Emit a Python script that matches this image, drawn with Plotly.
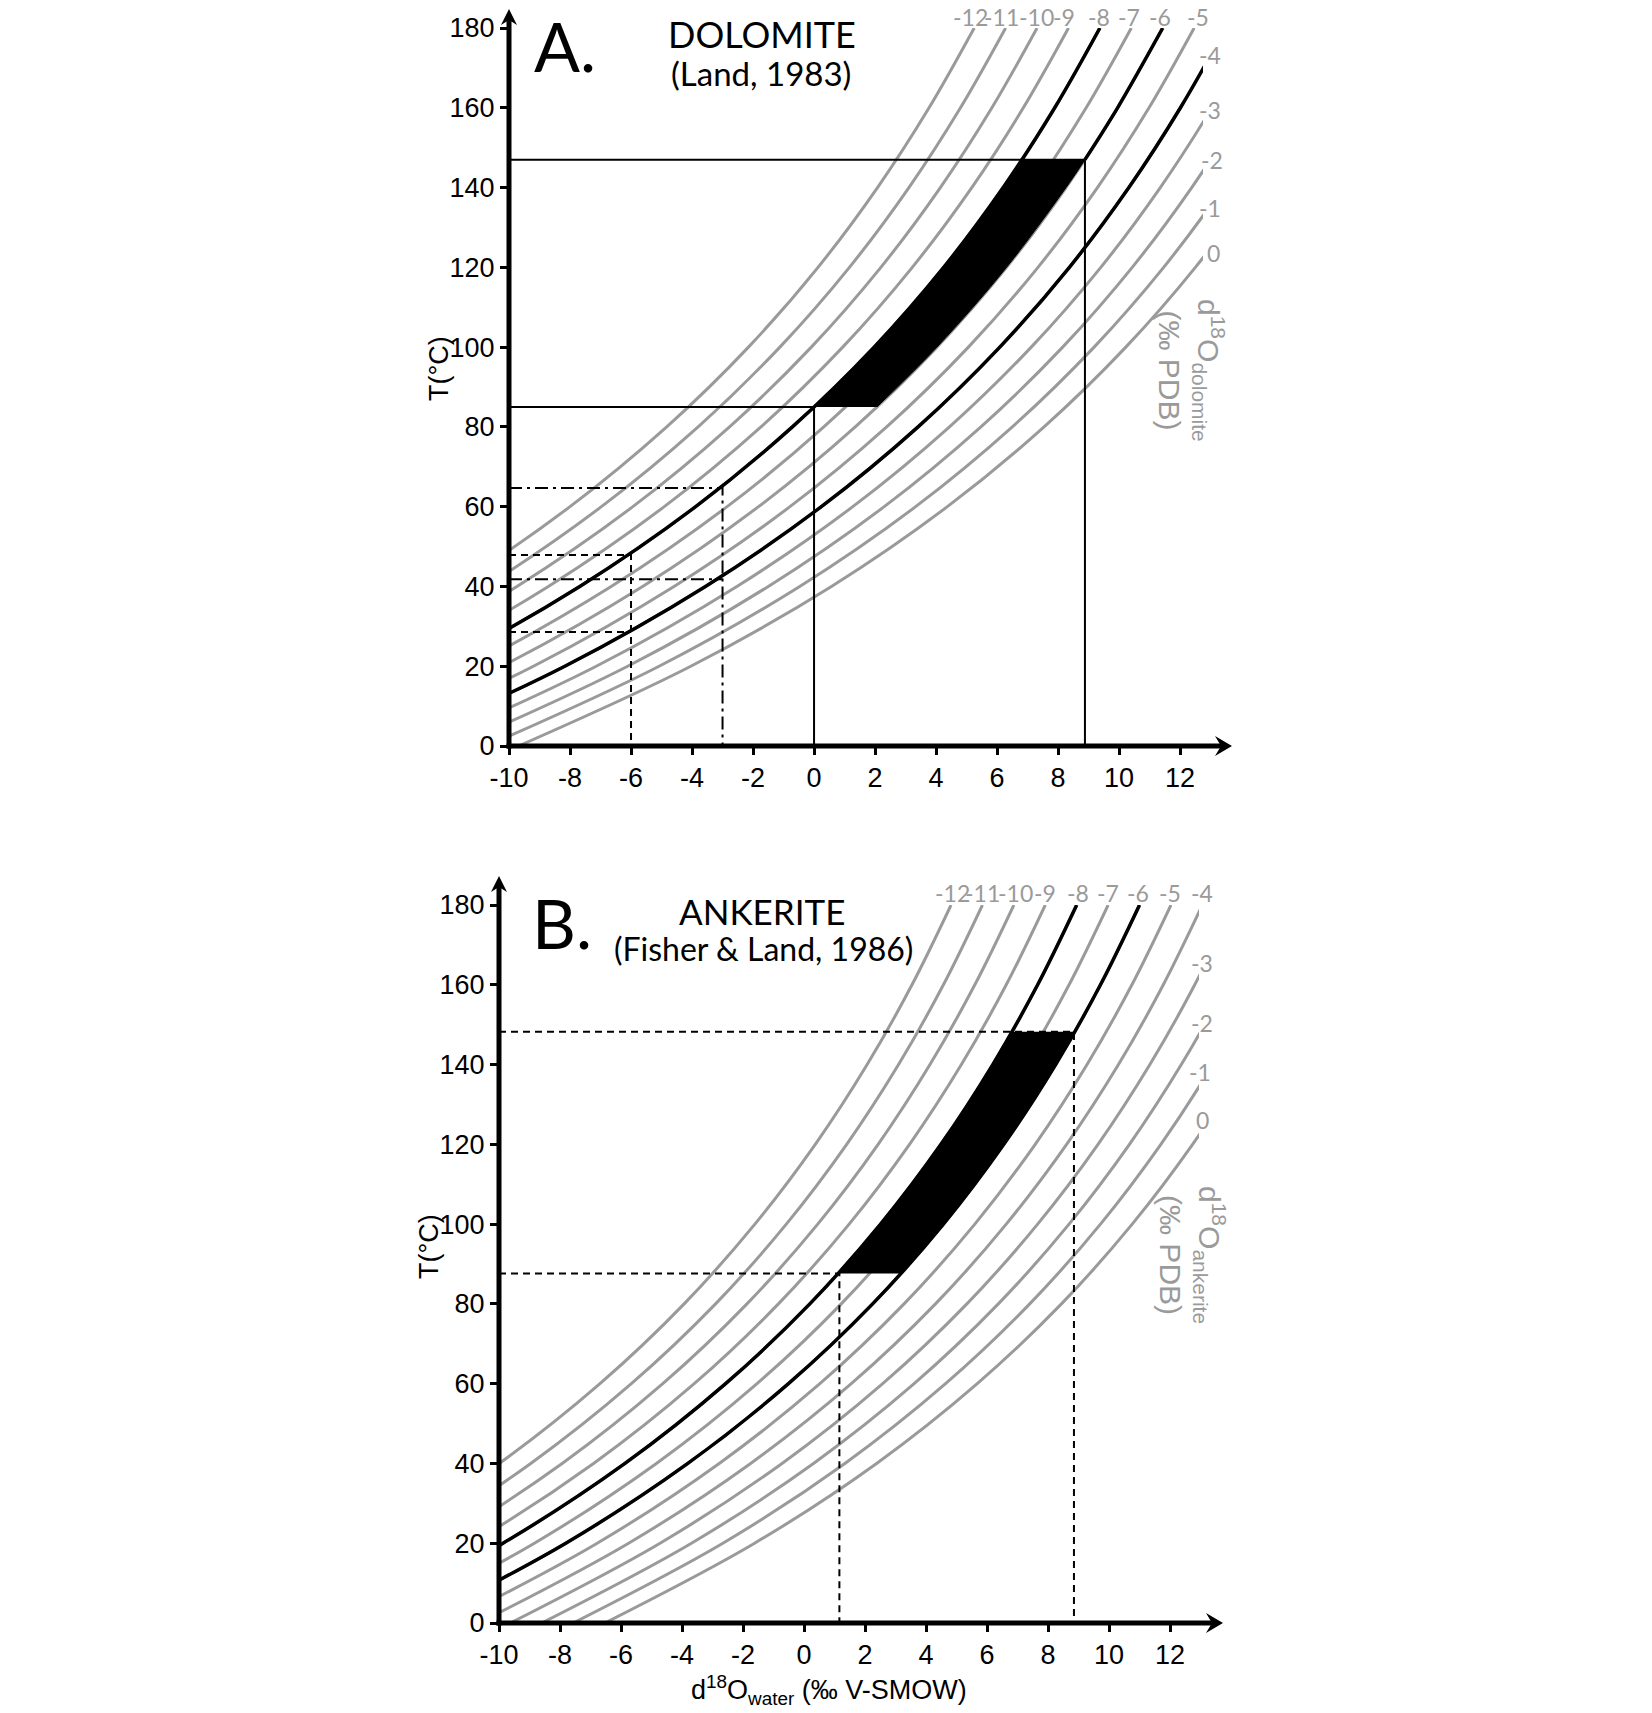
import plotly.graph_objects as go

W, H = 1652, 1713
PAGE_OFFSET = 8  # the browser body margin shifts the figure by this much

temp_grid = [0, 20, 40, 60, 80, 100, 120, 140, 160, 180]
iso_labels = [-12, -11, -10, -9, -8, -7, -6, -5, -4, -3, -2, -1, 0]

# A. dolomite (Land, 1983): d18O water (‰ V-SMOW) along each d18O dolomite isopleth
dol_water = {
    -12: [-22.06, -16.41, -11.80, -8.00, -4.83, -2.15, 0.13, 2.08, 3.77, 5.25],
    -11: [-21.03, -15.38, -10.77, -6.97, -3.80, -1.12, 1.16, 3.11, 4.80, 6.28],
    -10: [-20.00, -14.35, -9.74, -5.94, -2.77, -0.09, 2.19, 4.14, 5.83, 7.31],
    -9: [-18.97, -13.32, -8.71, -4.91, -1.74, 0.94, 3.22, 5.17, 6.86, 8.34],
    -8: [-17.94, -12.29, -7.68, -3.88, -0.71, 1.97, 4.25, 6.20, 7.89, 9.37],
    -7: [-16.91, -11.26, -6.65, -2.85, 0.32, 3.00, 5.28, 7.23, 8.92, 10.40],
    -6: [-15.88, -10.23, -5.62, -1.82, 1.35, 4.03, 6.31, 8.26, 9.95, 11.43],
    -5: [-14.85, -9.20, -4.59, -0.79, 2.38, 5.06, 7.34, 9.29, 10.98, 12.46],
    -4: [-13.82, -8.17, -3.56, 0.24, 3.41, 6.09, 8.37, 10.32, 12.01, 13.49],
    -3: [-12.79, -7.14, -2.53, 1.27, 4.44, 7.12, 9.40, 11.35, 13.04, 14.52],
    -2: [-11.76, -6.11, -1.50, 2.30, 5.47, 8.15, 10.43, 12.38, 14.07, 15.55],
    -1: [-10.73, -5.08, -0.47, 3.33, 6.50, 9.18, 11.46, 13.41, 15.10, 16.58],
    0: [-9.69, -4.04, 0.57, 4.37, 7.54, 10.22, 12.50, 14.45, 16.14, 17.62],
}
dol_black = [-8, -4]
# the -6 isopleth is black above the box
dol_top_T = [147, 160, 180]
dol_top_x = [8.88, 9.95, 11.43]
# black band between the -8 and -6 isopleths
dol_band_T = [85, 100, 120, 140, 147]
dol_band_left = [0.0, 1.97, 4.25, 6.20, 6.82]
dol_band_right = [2.06, 4.03, 6.31, 8.26, 8.88]
# reading lines (water value, temperature)
dol_solid = [(8.88, 147), (0.0, 85)]
dol_dash_x, dol_dash_T = -6.0, [47.9, 28.6]
dol_dashdot_x, dol_dashdot_T = -3.0, [64.7, 41.8]

# B. ankerite (Fisher & Land, 1986)
ank_water = {
    -12: [-18.90, -13.99, -9.99, -6.69, -3.93, -1.61, 0.37, 2.07, 3.54, 4.82],
    -11: [-17.87, -12.96, -8.96, -5.66, -2.90, -0.58, 1.40, 3.10, 4.57, 5.85],
    -10: [-16.84, -11.93, -7.93, -4.63, -1.87, 0.45, 2.43, 4.13, 5.60, 6.88],
    -9: [-15.81, -10.90, -6.90, -3.60, -0.84, 1.48, 3.46, 5.16, 6.63, 7.91],
    -8: [-14.78, -9.87, -5.87, -2.57, 0.19, 2.51, 4.49, 6.19, 7.66, 8.94],
    -7: [-13.75, -8.84, -4.84, -1.54, 1.22, 3.54, 5.52, 7.22, 8.69, 9.97],
    -6: [-12.72, -7.81, -3.81, -0.51, 2.25, 4.57, 6.55, 8.25, 9.72, 11.00],
    -5: [-11.69, -6.78, -2.78, 0.52, 3.28, 5.60, 7.58, 9.28, 10.75, 12.03],
    -4: [-10.66, -5.75, -1.75, 1.55, 4.31, 6.63, 8.61, 10.31, 11.78, 13.06],
    -3: [-9.63, -4.72, -0.72, 2.58, 5.34, 7.66, 9.64, 11.34, 12.81, 14.09],
    -2: [-8.60, -3.69, 0.31, 3.61, 6.37, 8.69, 10.67, 12.37, 13.84, 15.12],
    -1: [-7.57, -2.66, 1.34, 4.64, 7.40, 9.72, 11.70, 13.40, 14.87, 16.15],
    0: [-6.53, -1.62, 2.38, 5.68, 8.44, 10.76, 12.74, 14.44, 15.91, 17.19],
}
ank_black = [-8, -6]
ank_band_T = [87.6, 100, 120, 140, 148.2]
ank_band_left = [1.16, 2.51, 4.49, 6.19, 6.83]
ank_band_right = [3.12, 4.57, 6.55, 8.25, 8.87]
ank_dash = [(8.85, 148.2), (1.16, 87.6)]

x_ticks = [-10, -8, -6, -4, -2, 0, 2, 4, 6, 8, 10, 12]
y_ticks = [0, 20, 40, 60, 80, 100, 120, 140, 160, 180]

GREY = "#9a9a9a"
TITLE_FONT = "Lato, Noto Sans, sans-serif"
AXIS_FONT = "Liberation Sans, Arial, sans-serif"

fig = go.Figure()


def add_line(x, y, axes, color="black", width=2, dash="solid", shape="linear", **kw):
    fig.add_trace(go.Scatter(
        x=x, y=y, mode="lines", xaxis=axes[0], yaxis=axes[1],
        line=dict(color=color, width=width, dash=dash, shape=shape),
        hoverinfo="skip", showlegend=False, **kw))


def add_panel(curves, black, band_T, band_l, band_r, axes):
    for lab in iso_labels:
        add_line(curves[lab], temp_grid, axes, color=GREY, width=3, shape="spline")
    for lab in black:
        add_line(curves[lab], temp_grid, axes, width=3.5, shape="spline")
    add_line(band_l, band_T, axes, width=1, shape="spline")
    add_line(band_r, band_T, axes, width=1, shape="spline", fill="tonexty", fillcolor="black")


# panel A
add_panel(dol_water, dol_black, dol_band_T, dol_band_left, dol_band_right, ("x", "y"))
add_line(dol_top_x, dol_top_T, ("x", "y"), width=3.5, shape="spline")
for xv, tv in dol_solid:
    add_line([-10, xv, xv], [tv, tv, 0], ("x", "y"), width=2)
add_line([-10, dol_dash_x, dol_dash_x], [dol_dash_T[0], dol_dash_T[0], 0], ("x", "y"), dash="7px,5px")
add_line([-10, dol_dash_x], [dol_dash_T[1], dol_dash_T[1]], ("x", "y"), dash="7px,5px")
add_line([-10, dol_dashdot_x, dol_dashdot_x], [dol_dashdot_T[0], dol_dashdot_T[0], 0], ("x", "y"),
         dash="13px,5px,3px,5px")
add_line([-10, dol_dashdot_x], [dol_dashdot_T[1], dol_dashdot_T[1]], ("x", "y"), dash="13px,5px,3px,5px")

# panel B
add_panel(ank_water, ank_black, ank_band_T, ank_band_left, ank_band_right, ("x2", "y2"))
for xv, tv in ank_dash:
    add_line([-10, xv, xv], [tv, tv, 0], ("x2", "y2"), dash="7px,5px")


def P(x, y):
    """page pixel -> paper coordinates"""
    return (x - PAGE_OFFSET) / W, 1 - (y - PAGE_OFFSET) / H


# plot areas in page pixels (left, right, bottom, top)
A_BOX = (509, 1203, 746, 28)
B_BOX = (499, 1199, 1623, 905)


def dom(box):
    l, r, b, t = box
    x0, y0 = P(l, b)
    x1, y1 = P(r, t)
    return [x0, x1], [y0, y1]


axis_common = dict(showline=False, showgrid=False, zeroline=False, ticks="outside",
                   ticklen=8, tickwidth=2.5, tickcolor="black", automargin=False,
                   tickfont=dict(family=AXIS_FONT, size=27, color="black"))
ax_dom, ay_dom = dom(A_BOX)
bx_dom, by_dom = dom(B_BOX)
fig.update_layout(
    template="none",
    width=W, height=H, margin=dict(l=0, r=0, t=0, b=0, pad=0, autoexpand=False),
    paper_bgcolor="white", plot_bgcolor="white", showlegend=False,
    xaxis=dict(domain=ax_dom, range=[-10, 12.75], anchor="y", tickvals=x_ticks,
               ticktext=[str(v) for v in x_ticks], **axis_common),
    yaxis=dict(domain=ay_dom, range=[0, 180], anchor="x", tickvals=y_ticks,
               ticktext=[str(v) for v in y_ticks], **axis_common),
    xaxis2=dict(domain=bx_dom, range=[-10, 12.95], anchor="y2", tickvals=x_ticks,
                ticktext=[str(v) for v in x_ticks], **axis_common),
    yaxis2=dict(domain=by_dom, range=[0, 180], anchor="x2", tickvals=y_ticks,
                ticktext=[str(v) for v in y_ticks], **axis_common),
)

shapes = []


def axis_arrows(box, x_tip, y_tip):
    l, r, b, t = box
    x0, y0 = P(l - 2.5, b)
    x1, y1 = P(x_tip - 10, b)
    shapes.append(dict(type="line", xref="paper", yref="paper", x0=x0, y0=y0, x1=x1, y1=y1,
                       line=dict(color="black", width=5)))
    x0, y0 = P(l, b + 2.5)
    x1, y1 = P(l, y_tip + 10)
    shapes.append(dict(type="line", xref="paper", yref="paper", x0=x0, y0=y0, x1=x1, y1=y1,
                       line=dict(color="black", width=5)))
    heads = [
        [(x_tip, b), (x_tip - 17, b - 10), (x_tip - 11, b), (x_tip - 17, b + 10)],
        [(l, y_tip), (l - 8, y_tip + 16), (l, y_tip + 11), (l + 8, y_tip + 16)],
    ]
    for pts in heads:
        pp = [P(px, py) for px, py in pts]
        path = "M " + " L ".join(f"{a:.5f},{c:.5f}" for a, c in pp) + " Z"
        shapes.append(dict(type="path", xref="paper", yref="paper", path=path,
                           fillcolor="black", line=dict(width=0)))


axis_arrows(A_BOX, 1232, 9)
axis_arrows(B_BOX, 1223, 876)


def note(text, x, y, size, color="black", family=TITLE_FONT, angle=0):
    px, py = P(x, y)
    return dict(text=text, x=px, y=py, xref="paper", yref="paper", showarrow=False,
                xanchor="center", yanchor="middle", textangle=angle,
                font=dict(family=family, size=size, color=color))


notes = [
    note("A.", 565, 46, 68),
    note("DOLOMITE", 762, 34, 36),
    note("(Land, 1983)", 761, 73, 33),
    note("B.", 562, 922, 68),
    note("ANKERITE", 762, 911, 35),
    note("(Fisher &amp; Land, 1986)", 763, 948, 32),
    note("T(°C)", 439, 369, 27, family=AXIS_FONT, angle=-90),
    note("T(°C)", 429, 1247, 27, family=AXIS_FONT, angle=-90),
    note("d<sup>18</sup>O<sub>water</sub> (‰ V-SMOW)", 829, 1690, 27, family=AXIS_FONT),
    note("d<sup>18</sup>O<sub>dolomite</sub><br>(‰ PDB)", 1191, 370, 30, color=GREY,
         family=AXIS_FONT, angle=90),
    note("d<sup>18</sup>O<sub>ankerite</sub><br>(‰ PDB)", 1193, 1255, 30, color=GREY,
         family=AXIS_FONT, angle=90),
]

# isopleth labels (page-pixel centre of each label, same order as iso_labels)
dol_label_pos = [(970, 17), (1002, 17), (1036, 17), (1064, 17), (1099, 17), (1129, 17),
                 (1160, 17), (1198, 17), (1210, 55), (1210, 110), (1212, 160), (1210, 208),
                 (1213, 253)]
ank_label_pos = [(952, 893), (982, 893), (1015, 893), (1045, 893), (1078, 893), (1108, 893),
                 (1138, 893), (1170, 893), (1202, 893), (1202, 963), (1202, 1023), (1200, 1072),
                 (1202, 1120)]
for lab, (px, py) in zip(iso_labels, dol_label_pos):
    notes.append(note(str(lab), px, py, 23, color=GREY))
for lab, (px, py) in zip(iso_labels, ank_label_pos):
    notes.append(note(str(lab), px, py, 23, color=GREY))

fig.update_layout(shapes=shapes, annotations=notes)

fig.write_html("out.html")
